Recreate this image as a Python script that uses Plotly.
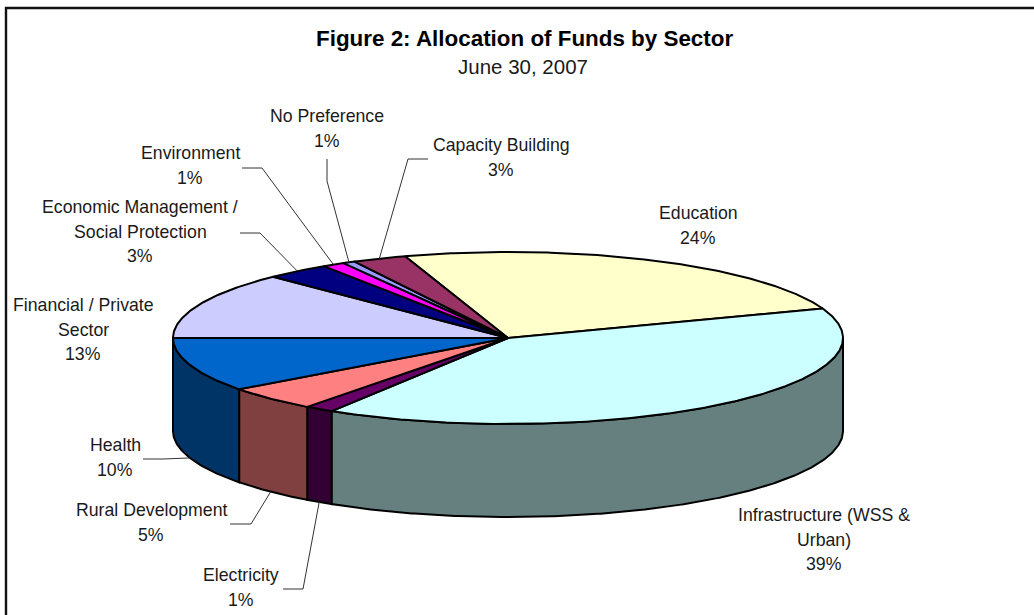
import numpy as np
import plotly.graph_objects as go

# Sector shares in percent, clockwise from the first slice
sectors = ["Education", "Infrastructure (WSS & Urban)", "Electricity", "Rural Development",
           "Health", "Financial / Private Sector", "Economic Management / Social Protection",
           "Environment", "No Preference", "Capacity Building"]
shares = [24.4, 39.4, 1.4, 4.6, 10.2, 12.6, 3.1, 1.1, 0.6, 2.6]
top_colors = ["#FFFFCC", "#CCFFFF", "#660066", "#FF8080", "#0066CC",
              "#CCCCFF", "#000080", "#FF00FF", "#9999FF", "#993366"]
side_colors = ["#808066", "#668080", "#330033", "#804040", "#003366",
               "#666680", "#000040", "#800080", "#4D4D80", "#4D1A33"]

# Label text lines (last line is filled in with the rounded share)
label_lines = {
    0: ["Education"],
    1: ["Infrastructure (WSS &", "Urban)"],
    2: ["Electricity"],
    3: ["Rural Development"],
    4: ["Health"],
    5: ["Financial / Private", "Sector"],
    6: ["Economic Management /", "Social Protection"],
    7: ["Environment"],
    8: ["No Preference"],
    9: ["Capacity Building"],
}
# Centre x and centre y of the first line of each label block
label_pos = {0: (698, 213), 1: (824, 515), 2: (241, 575), 3: (151, 510), 4: (115, 445),
             5: (83, 305), 6: (140, 207), 7: (190, 153), 8: (327, 116), 9: (501, 145)}
LINE_PITCH = 24.5

# Leader lines: horizontal stub from the label, then on to the rim of the slice
leaders = {2: [(283, 589), (303, 589)], 3: [(230, 524), (251, 524)], 4: [(143, 459), (163, 459)],
           6: [(240, 233), (260, 233)], 7: [(242, 168), (262, 168)], 8: [(327, 159), (327, 181)],
           9: [(428, 159), (408, 159)]}

# Pie projection in page pixels
CX, CY, RX, RY, DEPTH = 508, 338, 335, 86, 93
FIRST_ANGLE = -17.9
EDGE_WIDTH = 2
FONT = "Liberation Sans"
INK = "#1a1a1a"


def rim(deg, drop=0.0):
    """Point on the elliptical rim; angle runs clockwise from twelve o'clock."""
    r = np.radians(deg)
    return CX + RX * np.sin(r), CY - RY * np.cos(r) + drop


def arc(a, b, drop=0.0):
    n = max(int(abs(b - a) * 2), 2)
    return rim(np.linspace(a, b, n), drop)


edges = FIRST_ANGLE + np.concatenate([[0], np.cumsum(shares)]) * 3.6
fig = go.Figure()

# Outer wall: only the part of each slice between 90 and 270 degrees faces forward
for i in range(len(shares)):
    a, b = max(edges[i], 90), min(edges[i + 1], 270)
    if b <= a:
        continue
    tx, ty = arc(a, b)
    bx, by = arc(b, a, DEPTH)
    fig.add_trace(go.Scatter(x=np.r_[tx, bx, tx[0]], y=np.r_[ty, by, ty[0]], mode="lines",
                             fill="toself", fillcolor=side_colors[i],
                             line=dict(color="black", width=EDGE_WIDTH), hoverinfo="skip"))

# Top faces
for i in range(len(shares)):
    ax, ay = arc(edges[i], edges[i + 1])
    fig.add_trace(go.Scatter(x=np.r_[CX, ax, CX], y=np.r_[CY, ay, CY], mode="lines",
                             fill="toself", fillcolor=top_colors[i],
                             line=dict(color="black", width=EDGE_WIDTH), name=sectors[i],
                             hoverinfo="skip"))

# Leader lines end on the slice's middle angle
for i, stub in leaders.items():
    mid = (edges[i] + edges[i + 1]) / 2
    drop = DEPTH if 90 < mid < 270 else 0
    ex, ey = rim(mid, drop)
    fig.add_trace(go.Scatter(x=[stub[0][0], stub[1][0], float(ex)],
                             y=[stub[0][1], stub[1][1], float(ey)], mode="lines",
                             line=dict(color="#333333", width=1), hoverinfo="skip"))

annotations = []


def text(x, y, s, size=17.7, bold=False):
    annotations.append(dict(x=x, y=y, xref="x", yref="y", text=f"<b>{s}</b>" if bold else s,
                            showarrow=False, xanchor="center", yanchor="middle",
                            font=dict(family=FONT, size=size, color=INK if not bold else "black")))


for i, lines in label_lines.items():
    x, y = label_pos[i]
    for k, line in enumerate(lines + [f"{round(shares[i])}%"]):
        text(x, y + k * LINE_PITCH, line.replace("&", "&amp;"))

text(524, 38, "Figure 2: Allocation of Funds by Sector", size=22.4, bold=True)
text(523, 66, "June 30, 2007", size=20.5)

fig.update_layout(
    width=1034, height=615, margin=dict(l=0, r=0, t=0, b=0), showlegend=False,
    paper_bgcolor="white", plot_bgcolor="white", annotations=annotations,
    xaxis=dict(range=[0, 1034], visible=False, fixedrange=True),
    yaxis=dict(range=[615, 0], visible=False, fixedrange=True),
    # Chart frame: left and top edges, running off the page
    shapes=[dict(type="path", path="M 6 620 L 6 8 L 1040 8", xref="x", yref="y",
                 line=dict(color="#111111", width=2.4))],
)
fig.write_html("out.html")
